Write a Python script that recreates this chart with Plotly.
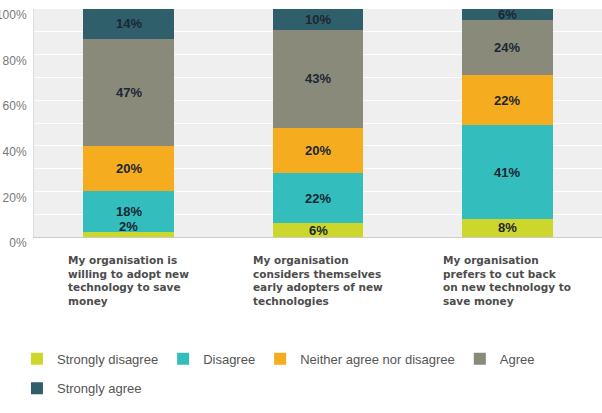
import plotly.graph_objects as go

categories = [
    "My organisation is<br>willing to adopt new<br>technology to save<br>money",
    "My organisation<br>considers themselves<br>early adopters of new<br>technologies",
    "My organisation<br>prefers to cut back<br>on new technology to<br>save money",
]
series_names = ["Strongly disagree", "Disagree", "Neither agree nor disagree", "Agree", "Strongly agree"]
strongly_disagree = [2, 6, 8]
disagree = [18, 22, 41]
neither = [20, 20, 22]
agree = [47, 43, 24]
strongly_agree = [14, 10, 6]
y_tick_values = [0, 20, 40, 60, 80, 100]
y_tick_labels = ["0%", "20%", "40%", "60%", "80%", "100%"]

colors = ["#cdd62b", "#33bdbd", "#f5ad1f", "#8a8a7b", "#2f5f6b"]
series = [strongly_disagree, disagree, neither, agree, strongly_agree]
xkeys = ["c1", "c2", "c3"]

fig = go.Figure()
for i, (name, vals) in enumerate(zip(series_names, series)):
    fig.add_trace(go.Bar(
        x=xkeys, y=vals, name=name, marker=dict(color=colors[i], line=dict(width=0)),
        width=0.48, legend="legend" if i < 4 else "legend2",
        hoverinfo="skip",
    ))

# value labels at centre of visible segment
ymax = 100
for j, key in enumerate(xkeys):
    base = 0
    for i, vals in enumerate(series):
        v = vals[j]
        lo = min(base, ymax)
        hi = min(base + v, ymax)
        yc = (lo + hi) / 2
        fig.add_annotation(
            x=key, y=yc, xref="x", yref="y", text=f"{v}%", showarrow=False,
            font=dict(family="Liberation Sans, Arial", size=13, color="#1c2733", weight="bold"),
            yshift=8 if v < 4 else 0,
        )
        base += v

# category labels
for key, label in zip(xkeys, categories):
    fig.add_annotation(
        x=key, y=0, xref="x", yref="paper", yanchor="top", yshift=-15,
        text=label, showarrow=False, align="left",
        font=dict(family="DejaVu Sans", size=10.5, color="#4d4d4d", weight="bold"),
    )

fig.update_layout(
    width=602, height=413,
    margin=dict(l=34, r=0, t=9, b=176),
    barmode="stack",
    paper_bgcolor="white",
    plot_bgcolor="#efefef",
    bargap=0.52,
    font=dict(family="Liberation Sans, Arial", size=12, color="#555555"),
    legend=dict(orientation="h", x=-0.03, xanchor="left", y=-0.468, yanchor="top",
                font=dict(size=13, color="#555555"), traceorder="normal"),
    legend2=dict(orientation="h", x=-0.03, xanchor="left", y=-0.598, yanchor="top",
                 font=dict(size=13, color="#555555")),
    showlegend=True,
)
fig.update_xaxes(showticklabels=False, showgrid=False, showline=True, linecolor="#cccccc",
                 linewidth=1, ticks="", fixedrange=True, automargin=False)
fig.update_yaxes(range=[0, 100], tickvals=y_tick_values, ticktext=y_tick_labels,
                 showgrid=True, gridcolor="#ffffff", gridwidth=1,
                 minor=dict(dtick=10, showgrid=True, gridcolor="#ffffff", gridwidth=1),
                 showline=True, linecolor="#dddddd", linewidth=1, zeroline=False,
                 ticks="", ticklabelshift=6, ticklabelstandoff=4, ticklabeloverflow="allow",
                 automargin=False,
                 tickfont=dict(size=12, color="#777777"))

fig.write_html("out.html")
